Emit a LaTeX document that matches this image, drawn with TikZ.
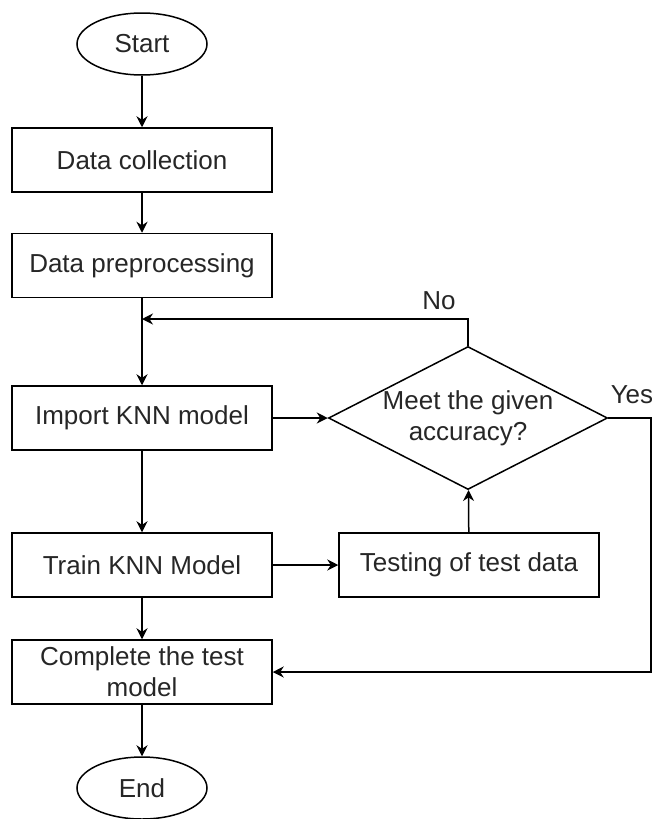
\documentclass[tikz,border=0pt]{standalone}
\usepackage{fontspec}
\setmainfont{Liberation Sans}
\usetikzlibrary{shapes.geometric,arrows.meta}

\begin{document}
\begin{tikzpicture}[x=0.5pt,y=-0.5pt,line width=0.75pt,
  every node/.style={font=\fontsize{13}{15.6}\selectfont,text=black!85},
  procbox/.style={draw,rectangle,minimum width=130pt,minimum height=32pt,inner sep=0pt,align=center},
  termbox/.style={draw,ellipse,minimum width=65pt,minimum height=31pt,inner sep=0pt},
  decbox/.style={draw,diamond,aspect=1.95,minimum width=139.5pt,minimum height=71.5pt,inner sep=0pt,align=center},
  flow/.style={-{Stealth[length=5.5pt,width=5.5pt]}}]
  \useasboundingbox (0,0) rectangle (652,819);

  \node[termbox] (start) at (142,44) {Start};
  \node[procbox] (collect) at (142,160) {Data collection};
  \node[procbox] (prep) at (142,265.5) {Data preprocessing};
  \node[procbox] (import) at (142,418) {Import KNN model};
  \node[procbox] (train) at (142,565) {Train KNN Model};
  \node[procbox] (complete) at (142,672) {Complete the test\\model};
  \node[termbox] (end) at (142,788) {End};
  \node[decbox] (meet) at (468,418) {Meet the given\\accuracy?};
  \node[procbox] (testing) at (469,565) {Testing of test data};
  \node (no) at (439,301) {No};
  \node[anchor=west,inner sep=0pt] (yes) at (610,395) {Yes};

  \coordinate (nojoin) at (142,319);
  \coordinate (yescorner) at (651,418);

  \draw[flow] (start) -- (collect);
  \draw[flow] (collect) -- (prep);
  \draw[flow] (prep) -- (import);
  \draw[flow] (import) -- (meet);
  \draw[flow] (meet.north) |- (nojoin);
  \draw[flow] (import) -- (train);
  \draw[flow] (train) -- (testing);
  \draw[flow] (testing) -- (meet);
  \draw[flow] (train) -- (complete);
  \draw[flow] (meet.east) -- (yescorner) |- (complete.east);
  \draw[flow] (complete) -- (end);

\end{tikzpicture}
\end{document}
